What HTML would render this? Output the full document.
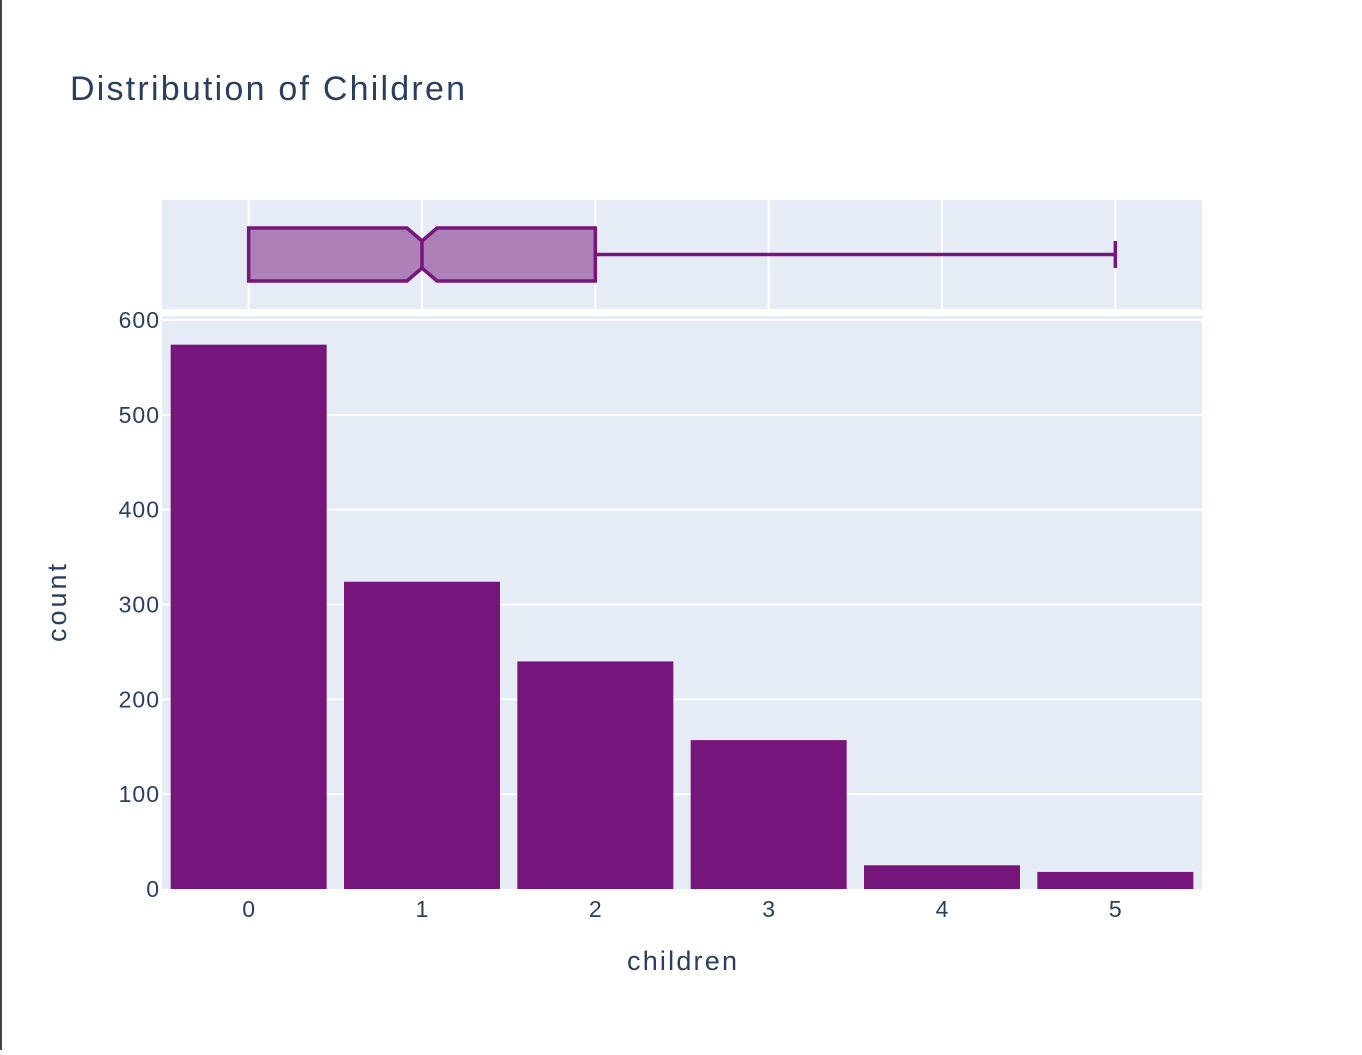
<!DOCTYPE html>
<html><head><meta charset="utf-8"><style>
body{margin:0;background:#fff;width:1362px;height:1050px;overflow:hidden;font-family:"Liberation Sans",sans-serif;}
svg text{font-family:"Liberation Sans",sans-serif;fill:#2a3f5f;}
</style></head><body>
<svg width="1362" height="1050">
<rect x="0" y="0" width="2" height="1050" fill="#444"/>
<text x="70" y="100" font-size="34" textLength="395" lengthAdjust="spacing">Distribution of Children</text>
<rect x="162" y="200" width="1040" height="109" fill="#e5ecf6"/>
<rect x="162" y="316" width="1040" height="573" fill="#e5ecf6"/>
<g id="grid"></g>
<g id="bars"></g>
<g id="box"></g>
<g id="ticks"></g>
<text x="682" y="970" font-size="27" text-anchor="middle" textLength="110" lengthAdjust="spacing">children</text>
<text transform="translate(66,603) rotate(-90)" font-size="27" text-anchor="middle" textLength="78" lengthAdjust="spacing">count</text>
</svg>
<script>
const categories=[0,1,2,3,4,5];
const counts=[574,324,240,157,25,18];
const yTicks=[0,100,200,300,400,500,600];
const boxStats=[0,1,2,5]; // q1, median, q3, upper fence
const NS="http://www.w3.org/2000/svg";
const x=v=>162+(v+0.5)*(1040/6);
const y=v=>889-v*(569/600);
function mk(tag,attrs,parent){const e=document.createElementNS(NS,tag);for(const k in attrs)e.setAttribute(k,attrs[k]);document.getElementById(parent).appendChild(e);return e;}
yTicks.forEach(t=>{
 if(t>0){const g=mk('line',{x1:162,x2:1202,y1:y(t),y2:y(t),stroke:'#fff','stroke-width':2},'grid');
 
 }
 const l=mk('text',{x:160,y:y(t)+8,'font-size':23,'text-anchor':'end','letter-spacing':1},'ticks');l.textContent=t;
 
 
});
categories.forEach(c=>{
 const g=mk('line',{x1:x(c),x2:x(c),y1:200,y2:309,stroke:'#fff','stroke-width':2},'grid');
 
 
 const l=mk('text',{x:x(c),y:917,'font-size':23,'text-anchor':'middle'},'ticks');l.textContent=c;
 
 
});
categories.forEach((c,i)=>{
 const b=mk('rect',{x:x(c)-78,y:y(counts[i]),width:156,height:889-y(counts[i]),fill:'#76157a'},'bars');
 
 
});
const [q1,med,q3,hi]=boxStats;
const t=228,bt=281,nt=241,nb=268,nw=15;
const m=x(med);
const p=mk('path',{d:`M${x(q1)},${t}H${m-nw}L${m},${nt}L${m+nw},${t}H${x(q3)}V${bt}H${m+nw}L${m},${nb}L${m-nw},${bt}H${x(q1)}Z`,fill:'rgba(118,21,122,0.5)',stroke:'#76157a','stroke-width':3.5},'box');


const md=mk('line',{x1:m,x2:m,y1:nt,y2:nb,stroke:'#76157a','stroke-width':3.5},'box');


const w=mk('line',{x1:x(q3),x2:x(hi),y1:254.5,y2:254.5,stroke:'#76157a','stroke-width':3.5},'box');


const wc=mk('line',{x1:x(hi),x2:x(hi),y1:241,y2:268,stroke:'#76157a','stroke-width':3.5},'box');


</script>
</body></html>
